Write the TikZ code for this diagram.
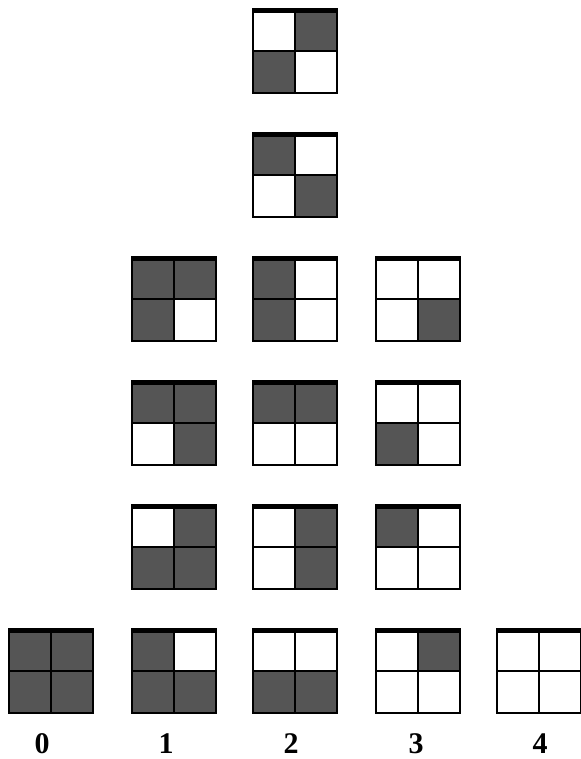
\documentclass[tikz,border=0pt]{standalone}
\usepackage{tikz}
\usepackage{fontspec}
\newfontfamily\labelfont{Liberation Serif}

\definecolor{cellgray}{RGB}{85,85,85}
\tikzset{
  cell/.style={draw=black, line width=1.4pt},
  topbar/.style={fill=black},
  countlabel/.style={font=\labelfont\fontsize{30}{34}\selectfont\bfseries, anchor=base, inner sep=0pt}
}

\begin{document}
\begin{tikzpicture}[x=1pt, y=-1pt]
  \useasboundingbox (0,0) rectangle (580,759);

  % squares: left, top, then cells TL TR BL BR (1 = dark)
  \foreach \sx/\sy/\a/\b/\c/\d in {
      253/9/0/1/1/0,
      253/133/1/0/0/1,
      132/257/1/1/1/0, 253/257/1/0/1/0, 376/257/0/0/0/1,
      132/381/1/1/0/1, 253/381/1/1/0/0, 376/381/0/0/1/0,
      132/505/0/1/1/1, 253/505/0/1/0/1, 376/505/1/0/0/0,
      9/629/1/1/1/1, 132/629/1/0/1/1, 253/629/0/0/1/1, 376/629/0/1/0/0, 497/629/0/0/0/0}
  {
    \ifnum\a=1 \fill[cellgray] (\sx,\sy) rectangle ++(42,42); \fi
    \ifnum\b=1 \fill[cellgray] (\sx+42,\sy) rectangle ++(42,42); \fi
    \ifnum\c=1 \fill[cellgray] (\sx,\sy+42) rectangle ++(42,42); \fi
    \ifnum\d=1 \fill[cellgray] (\sx+42,\sy+42) rectangle ++(42,42); \fi
    \draw[cell] (\sx,\sy) rectangle ++(84,84);
    \draw[cell] (\sx+42,\sy) -- ++(0,84);
    \draw[cell] (\sx,\sy+42) -- ++(84,0);
    \fill[topbar] (\sx-0.7,\sy-0.7) rectangle ++(85.4,4.7);
  }

  \node[countlabel] (n0) at (42,753) {0};
  \node[countlabel] (n1) at (166,753) {1};
  \node[countlabel] (n2) at (291,753) {2};
  \node[countlabel] (n3) at (416,753) {3};
  \node[countlabel] (n4) at (540,753) {4};

\end{tikzpicture}
\end{document}
